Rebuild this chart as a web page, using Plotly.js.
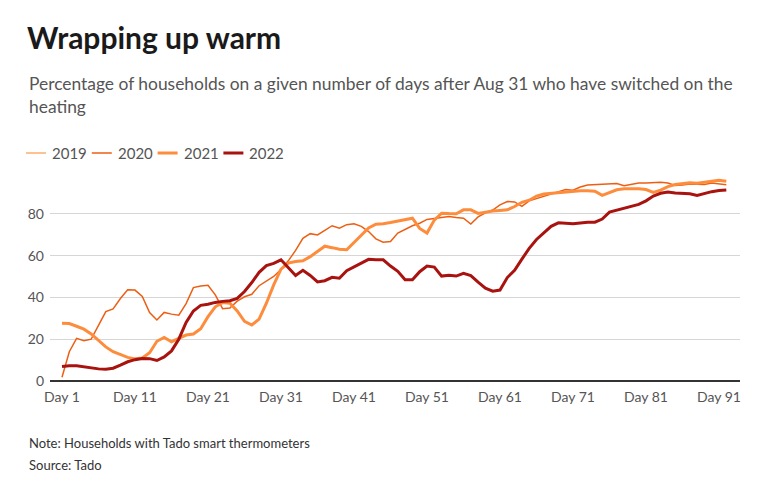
<!DOCTYPE html>
<html>
<head>
<meta charset="utf-8">
<script src="https://cdn.plot.ly/plotly-3.0.1.min.js"></script>
<style>
  html, body { margin: 0; padding: 0; background: #fff; }
  #chart { width: 764px; height: 485px; }
</style>
</head>
<body>
<div id="chart"></div>
<script>
// percentage of households with heating on, day 1 .. day 92 after Aug 31
// (2019 is in the legend but has no line on the chart)
var y2019 = [];

var y2020 = [1.8, 14, 20.4, 19.3, 20, 26.8, 33.2, 34.5, 39.5, 43.6,
    43.5, 40.5, 32.8, 29.2, 32.8, 32, 31.5, 37, 44.7, 45.5,
    45.8, 41.2, 34.6, 34.9, 38.2, 40.3, 41.5, 45.6, 47.6, 50,
    53.3, 57.5, 62.5, 68.3, 70.5, 69.9, 72.1, 74.3, 73.1, 74.8,
    75.2, 74, 71.5, 68, 66.4, 66.7, 70.8, 72.6, 74.3, 75.5,
    77.3, 77.8, 78.3, 78.7, 78.2, 77.9, 75.1, 78.5, 80.5, 81.8,
    84.3, 85.9, 85.7, 83.6, 86.2, 87.3, 88.2, 89.2, 90.3, 91.6,
    91.3, 92.8, 93.8, 94, 94.2, 94.6, 94.5, 93.4, 94.2, 94.7,
    94.7, 95, 95.1, 94.7, 93.6, 93.8, 94.2, 94.1, 94, 94.7,
    94.4, 93.9];

var y2021 = [27.6, 27.5, 26.2, 24.8, 22.5, 19.3, 16.3, 14, 12.5, 11.3,
    10.6, 11, 13.5, 19, 20.8, 18.8, 20.4, 22, 22.5, 25,
    30.8, 35.5, 37.5, 37.2, 33.5, 28.5, 26.8, 29.6, 37.2, 46,
    53.5, 56.4, 57.2, 57.5, 59.5, 61.8, 64.5, 63.8, 63, 62.8,
    66.3, 70, 73.2, 75, 75.2, 75.8, 76.4, 77, 77.9, 73,
    70.8, 77, 80.3, 80.1, 80, 81.9, 81.9, 80.2, 80.9, 81.3,
    81.6, 81.9, 83.5, 85.5, 86.5, 88.5, 89.5, 89.8, 90.2, 90.7,
    91, 91, 91, 90.8, 88.8, 90, 91.5, 92, 92, 92,
    91.6, 90.2, 91.3, 93, 94, 94.3, 94.8, 94.6, 95, 95.5,
    96, 95.6];

var y2022 = [6.9, 7.3, 7.3, 6.7, 6.2, 5.8, 5.6, 6.1, 7.6, 9.2,
    10.2, 10.8, 10.7, 9.8, 11.5, 14.4, 20, 28, 33.5, 36.2,
    36.7, 37.6, 38.1, 38.4, 39.5, 42.8, 47.1, 52, 55.2, 56.3,
    58, 54, 50.5, 53, 50.5, 47.4, 48, 49.6, 49.2, 52.8,
    54.5, 56.2, 58.2, 58, 58, 55, 52.5, 48.4, 48.4, 52.3,
    55, 54.5, 50.2, 50.6, 50.2, 51.5, 50.4, 47.3, 44.4, 43,
    43.5, 49.5, 53, 58.3, 63.5, 67.7, 70.7, 74, 75.7, 75.3,
    75.2, 75.6, 76, 76, 77.5, 80.8, 81.7, 82.4, 83.5, 84.5,
    86.2, 88.5, 89.8, 90.4, 90, 89.8, 89.6, 88.8, 89.7, 90.6,
    91.1, 91.4];

var days = [];
for (var i = 0; i < y2022.length; i++) {
    days.push(i + 1);
}

var xTicks = [1, 11, 21, 31, 41, 51, 61, 71, 81, 91];
var xTickText = ['Day 1', 'Day 11', 'Day 21', 'Day 31', 'Day 41', 'Day 51', 'Day 61', 'Day 71', 'Day 81', 'Day 91'];
var yTicks = [0, 20, 40, 60, 80];

var font = 'Lato, "Open Sans", sans-serif';

var series = [
    { name: '2019', y: y2019, color: '#fdae6b', width: 1.5 },
    { name: '2020', y: y2020, color: '#ec5f13', width: 1.5 },
    { name: '2021', y: y2021, color: '#fd8d3c', width: 3 },
    { name: '2022', y: y2022, color: '#a8130f', width: 3 }
];

// plot area: x 50..740 px, y 172..381 px
var plotLeft = 50, plotWidth = 690, plotBottom = 381, plotHeight = 209;
function px(x) { return (x - plotLeft) / plotWidth; }
function py(y) { return (plotBottom - y) / plotHeight; }

var data = [];
var shapes = [];
var annotations = [];

series.forEach(function(s, k) {
    if (s.y.length) {
        data.push({
            x: days.slice(0, s.y.length),
            y: s.y,
            name: s.name,
            mode: 'lines',
            type: 'scatter',
            line: { color: s.color, width: s.width },
            hoverinfo: 'skip'
        });
    }
    // legend drawn by hand: short line + label
    var left = 26 + k * 65.8;
    shapes.push({
        type: 'line', xref: 'paper', yref: 'paper',
        x0: px(left), x1: px(left + 20), y0: py(153), y1: py(153),
        line: { color: s.color, width: s.width }
    });
    annotations.push({
        text: s.name, xref: 'paper', yref: 'paper',
        x: px(left + 24), y: py(153),
        xanchor: 'left', yanchor: 'middle',
        showarrow: false,
        font: { family: font, size: 15, color: '#555' }
    });
});

annotations.push(
    {
        text: 'Percentage of households on a given number of days after Aug 31 who have switched on the<br>heating',
        xref: 'paper', yref: 'paper',
        x: px(27), y: py(71),
        xanchor: 'left', yanchor: 'top',
        align: 'left',
        showarrow: false,
        font: { family: font, size: 17.4, color: '#555' }
    },
    {
        text: 'Note: Households with Tado smart thermometers',
        xref: 'paper', yref: 'paper',
        x: px(27), y: py(443),
        xanchor: 'left', yanchor: 'middle',
        showarrow: false,
        font: { family: font, size: 13, color: '#333' }
    },
    {
        text: 'Source: Tado',
        xref: 'paper', yref: 'paper',
        x: px(27), y: py(465),
        xanchor: 'left', yanchor: 'middle',
        showarrow: false,
        font: { family: font, size: 13, color: '#333' }
    }
);

var layout = {
    width: 764,
    height: 485,
    margin: { l: 50, r: 24, t: 172, b: 104 },
    paper_bgcolor: '#fff',
    plot_bgcolor: '#fff',
    font: { family: font, color: '#555', size: 14 },
    showlegend: false,
    title: {
        text: '<b>Wrapping up warm</b>',
        x: 27 / 764,
        xanchor: 'left',
        xref: 'container',
        y: 1 - 38 / 485,
        yanchor: 'middle',
        yref: 'container',
        font: { family: font, size: 30, color: '#1a1a1a' }
    },
    xaxis: {
        range: [1 - 12 / 7.3, 1 + 678 / 7.3],
        tickvals: xTicks,
        ticktext: xTickText,
        showgrid: false,
        zeroline: false,
        showline: false,
        ticks: '',
        ticklabelstandoff: 6,
        tickfont: { family: font, size: 14, color: '#555' },
        fixedrange: true
    },
    yaxis: {
        range: [0, 100],
        tickvals: yTicks,
        showgrid: true,
        gridcolor: '#d6d6d6',
        gridwidth: 1,
        zeroline: true,
        zerolinecolor: '#333',
        zerolinewidth: 1.5,
        showline: false,
        ticks: '',
        ticklabelstandoff: 5,
        tickfont: { family: font, size: 14, color: '#555' },
        fixedrange: true
    },
    shapes: shapes,
    annotations: annotations
};

Plotly.newPlot('chart', data, layout, { displayModeBar: false, staticPlot: true });
</script>
</body>
</html>
